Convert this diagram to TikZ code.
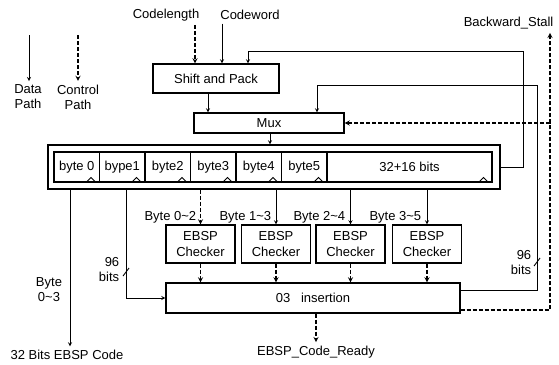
\documentclass[tikz,border=0pt]{standalone}
\usepackage{fontspec}
\setmainfont{Liberation Sans}
\usepackage{tikz}

\begin{document}
\begin{tikzpicture}[>=stealth,x=1pt,y=-1pt,line width=0.9pt,
  font=\fontsize{13}{15}\selectfont,
  blk/.style={draw,line width=1.1pt,inner sep=0pt},
  cell/.style={draw,line width=1.1pt,inner sep=0pt,minimum height=30pt},
  chk/.style={blk,align=center,minimum width=69pt,minimum height=38pt,font=\fontsize{13}{16}\selectfont},
  ctrl/.style={dash pattern=on 4pt off 2pt,line width=1.3pt}]
\useasboundingbox (0,0) rectangle (559,364);
% legend
\node[align=center] (dl) at (28,97) {Data\\Path};\node[align=center] (cl) at (78,97) {Control\\Path};
\coordinate (dt) at (29,35);\coordinate (ct) at (78,35);
\draw[->] (dt) -- (dt |- dl.north);
\draw[->,ctrl] (ct) -- (ct |- cl.north);
% inputs
\node (clen) at (166,15) {Codelength};\node (cword) at (250,15) {Codeword};
\node[anchor=west] (bs) at (460,23) {Backward\_Stall};
% blocks
\node[blk,minimum width=126pt,minimum height=29pt] (shift) at (216,78.5) {Shift and Pack};
\node[blk,minimum width=150pt,minimum height=20pt] (mux) at (269,123) {Mux};
\node[blk,minimum width=452pt,minimum height=44pt] (reg) at (274,167) {};
\node[cell,minimum width=45.5pt] (b0) at (76.75,167) {byte 0};\node[cell,minimum width=45.5pt] (b1) at (122.25,167) {bype1};
\node[cell,minimum width=45.5pt] (b2) at (167.75,167) {byte2};\node[cell,minimum width=45.5pt] (b3) at (213.25,167) {byte3};
\node[cell,minimum width=45.5pt] (b4) at (258.75,167) {byte4};\node[cell,minimum width=45.5pt] (b5) at (304.25,167) {byte5};
\node[cell,minimum width=165pt] (rest) at (409.5,167) {32+16 bits};
\foreach \c in {b0,b1,b2,b3,b4,b5,rest}
  \draw ([xshift=-14pt]\c.south east) -- ++(5,-5) -- ++(5,5);
\node[chk] (chk1) at (200.5,244) {EBSP\\Checker};\node[chk] (chk2) at (276,244) {EBSP\\Checker};
\node[chk] (chk3) at (350.5,244) {EBSP\\Checker};\node[chk] (chk4) at (427,244) {EBSP\\Checker};
\node[blk,minimum width=294pt,minimum height=30pt] (ins) at (313,298) {03\ \ \ insertion};
\node (code) at (67,355) {32 Bits EBSP Code};\node (rdy) at (316,352) {EBSP\_Code\_Ready};
% top part
\draw[->,ctrl] ([xshift=-21pt]shift.north |- clen.south) -- ([xshift=-21pt]shift.north);
\draw[->] ([xshift=6pt]shift.north |- cword.south) -- ([xshift=6pt]shift.north);
\draw[->] ([xshift=-8pt]shift.south) -- ([xshift=-8pt]shift.south |- mux.north);
\draw[->] ([xshift=1pt]mux.south) -- ([xshift=1pt]mux.south |- reg.north);
% feedback paths
\coordinate (fb) at (523,51);\coordinate (rt) at (537,85);\coordinate (cs) at (550,123);
\draw[->] (reg.east) -| (fb) -| ([xshift=32pt]shift.north);
\draw[->] ([yshift=8pt]ins.east) -| (rt) -| ([xshift=48pt]mux.north);
\draw[->,ctrl] ([yshift=-12pt]ins.east) -| (cs) -- (cs |- bs.south);
\draw[->,ctrl] (cs) -- (mux.east);
\draw (534,266) -- (540,258);
\node[align=right,anchor=east] at (535,263) {96\\bits};
% checkers
\draw[->,ctrl] (chk1.north |- reg.south) -- (chk1.north);
\draw[->] (chk2.north |- reg.south) -- (chk2.north);
\draw[->] (chk3.north |- reg.south) -- (chk3.north);
\draw[->] (chk4.north |- reg.south) -- (chk4.north);
\node[anchor=east] at (200,217) {Byte 0\textasciitilde2};\node[anchor=east] at (275,217) {Byte 1\textasciitilde3};
\node[anchor=east] at (349,217) {Byte 2\textasciitilde4};\node[anchor=east] at (425,217) {Byte 3\textasciitilde5};
\draw[->,ctrl] (chk1.south) -- (chk1.south |- ins.north);
\draw[->,ctrl] (chk2.south) -- (chk2.south |- ins.north);
\draw[->,ctrl] (chk3.south) -- (chk3.south |- ins.north);
\draw[->,ctrl] (chk4.south) -- (chk4.south |- ins.north);
% outputs
\coordinate (p0) at (70,189);\coordinate (p1) at (126,189);
\draw[->] (p0) -- (p0 |- code.north);
\node[align=center] at (49,290) {Byte\\0\textasciitilde3};
\draw[->] (p1) |- (ins.west);
\draw (123,276) -- (129,268);
\node[align=right,anchor=east] at (123,270) {96\\bits};
\draw[->,ctrl] ([xshift=3pt]ins.south) -- ([xshift=3pt]ins.south |- rdy.north);
\end{tikzpicture}
\end{document}
